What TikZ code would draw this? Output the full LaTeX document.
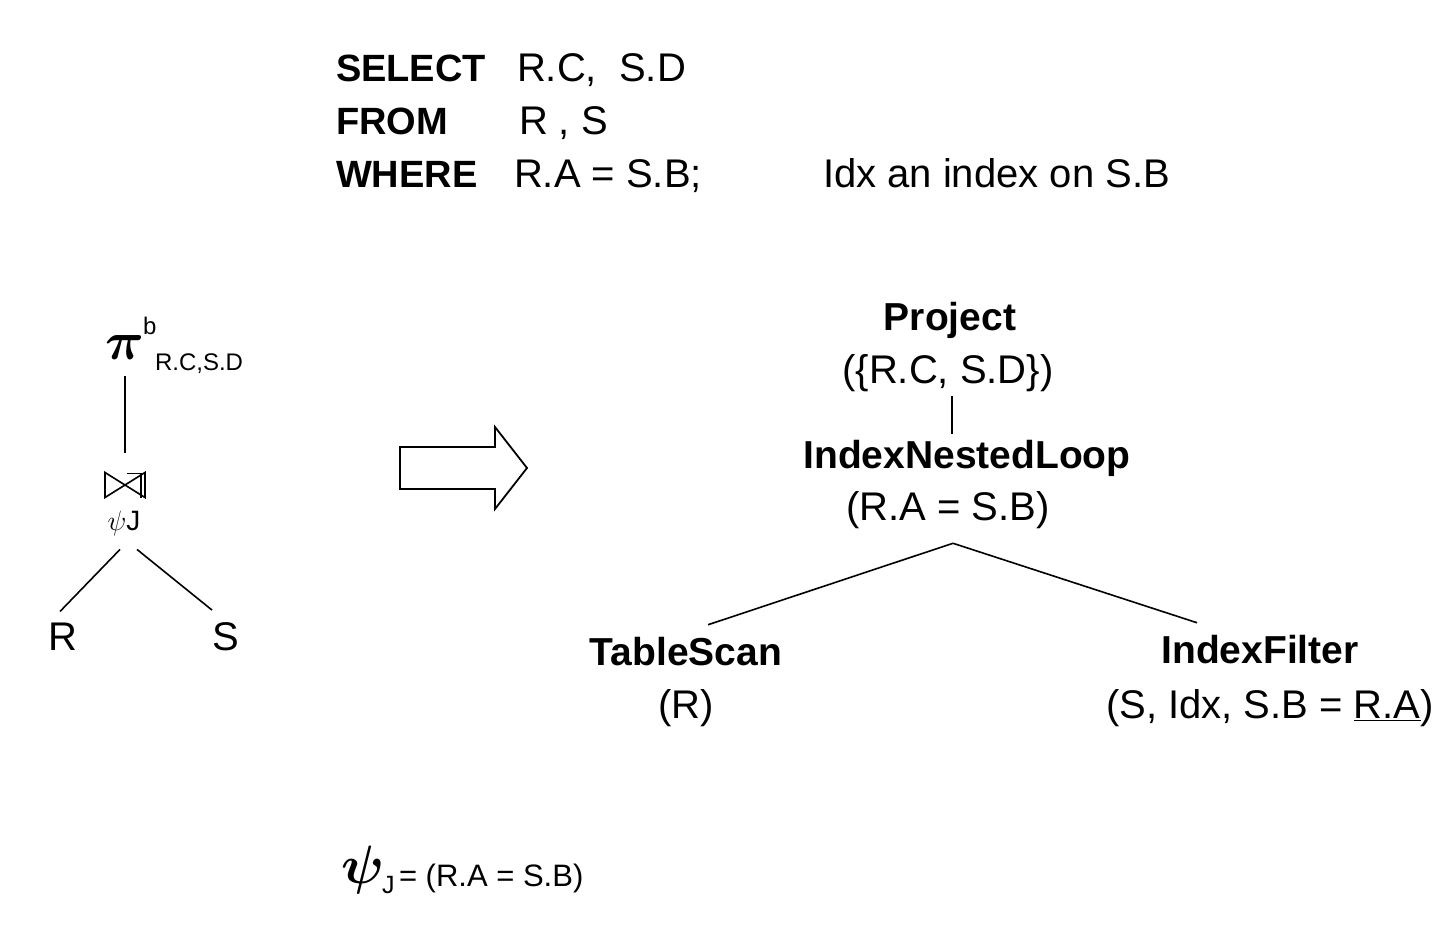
\RequirePackage{fix-cm}
\documentclass[tikz,border=0pt]{standalone}
\usepackage{fontspec}
\setmainfont{Liberation Sans}
\usetikzlibrary{calc}
\tikzset{
  base/.style={inner sep=0pt, outer sep=0pt},
  kw/.style={base, anchor=base west, font=\fontsize{19}{23}\selectfont\bfseries},
  tx/.style={base, anchor=base west, font=\fontsize{20}{24}\selectfont},
  kwc/.style={base, anchor=base, font=\fontsize{19.5}{23}\selectfont\bfseries},
  txc/.style={base, anchor=base, font=\fontsize{20}{24}\selectfont},
  small/.style={base, anchor=base west, font=\fontsize{12}{14}\selectfont},
  edge/.style={draw, line width=0.8pt},
}
\begin{document}
\begin{tikzpicture}[x=0.5pt,y=-0.5pt]
\useasboundingbox[fill=white] (0,0) rectangle (1450,925);

% SQL query
\node[kw] (sel) at (336,82) {SELECT};
\node[tx] (selv) at (517,82) {R.C,\ \ S.D};
\node[kw] (from) at (336,135) {FROM};
\node[tx] (fromv) at (519,135) {R , S};
\node[kw] (where) at (336,188) {WHERE};
\node[tx] (wherev) at (514,188) {R.A = S.B;};
\node[tx] (idx) at (823,188) {Idx an index on S.B};

% left logical tree
\node[base, anchor=base west, font=\fontsize{27}{30}\selectfont\boldmath] (pi) at (105,359) {$\pi$};
\node[small] (pib) at (143,334) {b};
\node[small] (pisub) at (155,370) {R.C,S.D};
\node[base, minimum width=20pt, minimum height=12.5pt] (join) at (125,485) {};
\draw[line width=0.8pt] (join.north west) -- (join.south west) -- (join.north east) -- (join.south east) -- cycle;
\draw[line width=0.8pt] ($(join.north)+(2,1)$) -- ++(14,0) -- ++(0,24);
\node[base, anchor=base, font=\fontsize{14}{16}\selectfont] (psij) at (124,530) {$\psi$J};
\node[txc] (R) at (63,650) {R};
\node[txc] (S) at (226,650) {S};
\draw[edge] ($(join.north)+(0,-97)$) -- ($(join.north)+(0,-20)$);
\draw[edge] ($(psij.south)+(-4,14)$) -- ($(R.north)+(-3,-11)$);
\draw[edge] ($(psij.south)+(13,14)$) -- ($(S.north)+(-14,-12)$);

% block arrow
\draw[line width=0.9pt] (400,447) -- (495,447) -- (495,427) -- (527,468) -- (495,509) -- (495,489) -- (400,489) -- cycle;

% physical plan
\node[kwc] (proj) at (950,330) {Project};
\node[txc] (projv) at (948,383) {(\{R.C, S.D\})};
\node[kwc] (inl) at (967,468) {IndexNestedLoop};
\node[txc] (inlv) at (948,520) {(R.A = S.B)};
\node[kwc] (ts) at (686,665) {TableScan};
\node[txc] (tsv) at (686,718) {(R)};
\node[kwc] (ixf) at (1260,663) {IndexFilter};
\node[txc] (ixfv) at (1270,718) {(S, Idx, S.B = \underline{R.A})};

\draw[edge] ($(projv.south)+(4,5)$) -- ($(inl.north)+(-15,-6)$);
\coordinate (fork) at ($(inlv.south)+(5,15)$);
\draw[edge] (fork) -- ($(ts.north)+(22,-12)$);
\draw[edge] (fork) -- ($(ixf.north)+(-63,-12)$);

% footnote
\node[base, anchor=base west, font=\fontsize{27}{30}\selectfont\boldmath] (psi) at (341,883) {$\psi$};
\node[base, anchor=base west, font=\fontsize{12.5}{14}\selectfont] (psiJ) at (382,893) {J};
\node[base, anchor=base west, font=\fontsize{15.5}{18}\selectfont] (psidef) at (399,886) {= (R.A = S.B)};
\end{tikzpicture}
\end{document}
